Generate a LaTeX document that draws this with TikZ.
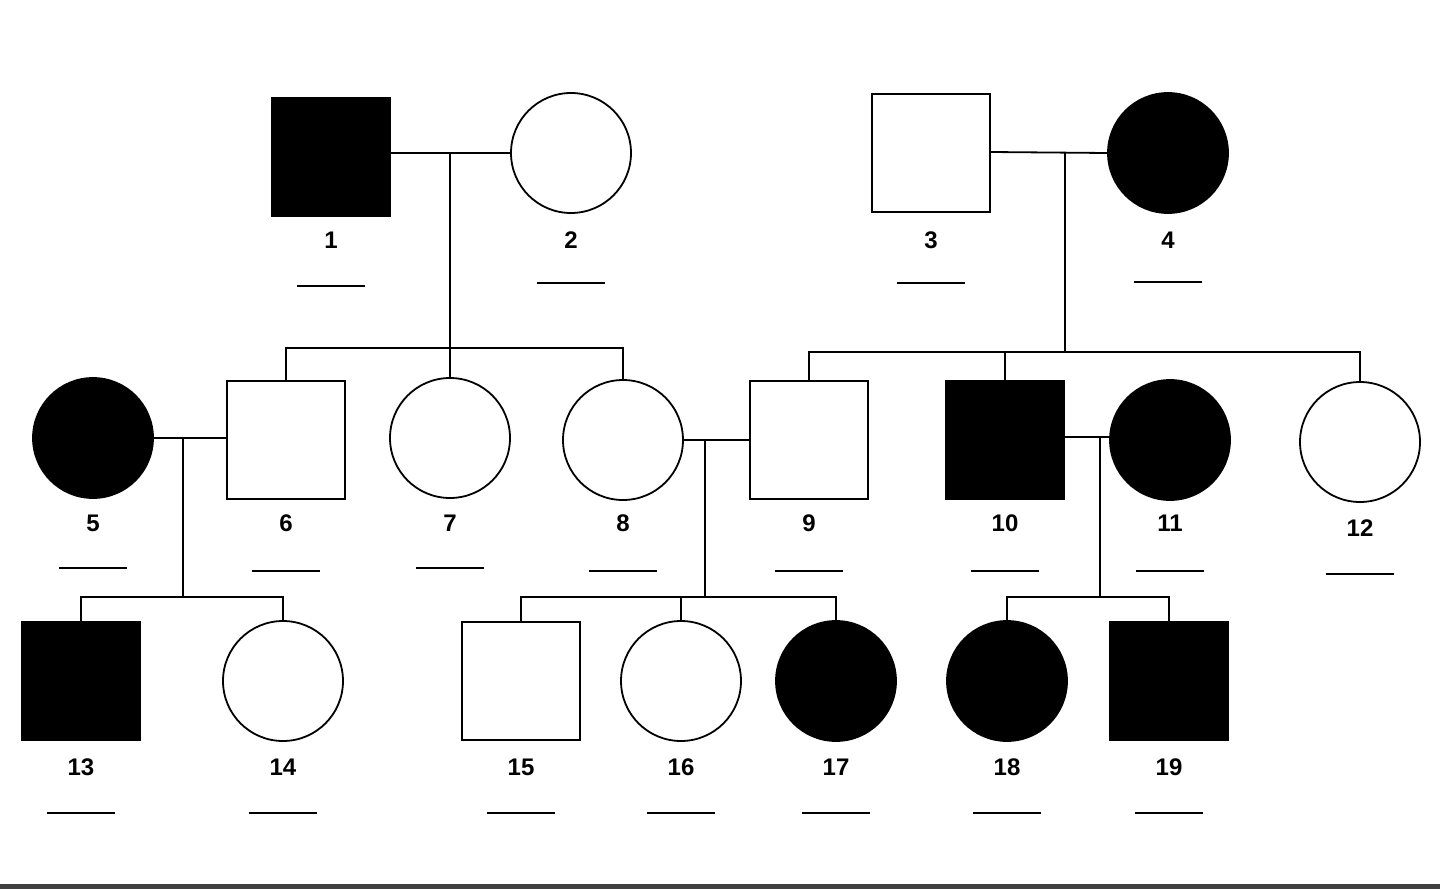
\documentclass[tikz,border=0pt]{standalone}
\usepackage{fontspec}
\setmainfont{Liberation Sans}
\begin{document}
\begin{tikzpicture}[x=1pt,y=-1pt,line width=1.8pt,
  male/.style={draw,rectangle,minimum size=118pt,inner sep=0pt},
  female/.style={draw,circle,minimum size=120pt,inner sep=0pt},
  aff/.style={fill=black},
  lab/.style={font=\fontsize{24}{24}\selectfont\bfseries,inner sep=0pt}]
\useasboundingbox (0,0) rectangle (1440,889);
\fill[black!75] (0,884) rectangle (1440,889);
% generation 1
\node[male,aff] (p1) at (331,157) {};
\node[female] (p2) at (571,153) {};
\node[male] (p3) at (931,153) {};
\node[female,aff] (p4) at (1168,153) {};
% generation 2
\node[female,aff] (p5) at (93,438) {};
\node[male] (p6) at (286,440) {};
\node[female] (p7) at (450,438) {};
\node[female] (p8) at (623,440) {};
\node[male] (p9) at (809,440) {};
\node[male,aff] (p10) at (1005,440) {};
\node[female,aff] (p11) at (1170,440) {};
\node[female] (p12) at (1360,442) {};
% generation 3
\node[male,aff] (p13) at (81,681) {};
\node[female] (p14) at (283,681) {};
\node[male] (p15) at (521,681) {};
\node[female] (p16) at (681,681) {};
\node[female,aff] (p17) at (836,681) {};
\node[female,aff] (p18) at (1007,681) {};
\node[male,aff] (p19) at (1169,681) {};
% labels and blanks
\foreach \n/\x/\y/\yu in {1/331/240/286,2/571/240/283,3/931/240/283,4/1168/240/282,
  5/93/523/568,6/286/523/571,7/450/523/568,8/623/523/571,9/809/523/571,10/1005/523/571,11/1170/523/571,12/1360/528/574,
  13/81/767/813,14/283/767/813,15/521/767/813,16/681/767/813,17/836/767/813,18/1007/767/813,19/1169/767/813}{
  \node[lab] (l\n) at (\x,\y) {\n};
  \coordinate (ua\n) at (\x-34,\yu); \coordinate (ub\n) at (\x+34,\yu);
  \draw[line width=1.6pt] (ua\n) -- (ub\n);
}
% couples and descents
\coordinate (d12) at (450,153); \coordinate (s12) at (450,348);
\draw (p1.east|-d12) -- (p2.west); \draw (d12) -- (s12);
\draw (p6.north) |- (s12) -| (p8.north); \draw (s12) -- (p7.north);
\coordinate (d34) at (1065,152); \coordinate (s34) at (1065,352);
\draw (p3.east|-d34) -- (p4.west); \draw (d34) -- (s34);
\draw (p9.north) |- (s34) -| (p12.north); \draw (p10.north) -- (p10.north|-s34);
\coordinate (d56) at (183,438); \coordinate (s56) at (183,597);
\draw (p5.east) -- (p6.west|-d56); \draw (d56) -- (s56);
\draw (p13.north) |- (s56) -| (p14.north);
\coordinate (d89) at (705,440); \coordinate (s89) at (705,597);
\draw (p8.east) -- (p9.west); \draw (d89) -- (s89);
\draw (p15.north) |- (s89) -| (p17.north); \draw (p16.north) -- (p16.north|-s89);
\coordinate (d1011) at (1100,437); \coordinate (s1011) at (1100,597);
\draw (p10.east|-d1011) -- (p11.west|-d1011); \draw (d1011) -- (s1011);
\draw (p18.north) |- (s1011) -| (p19.north);
\end{tikzpicture}
\end{document}
